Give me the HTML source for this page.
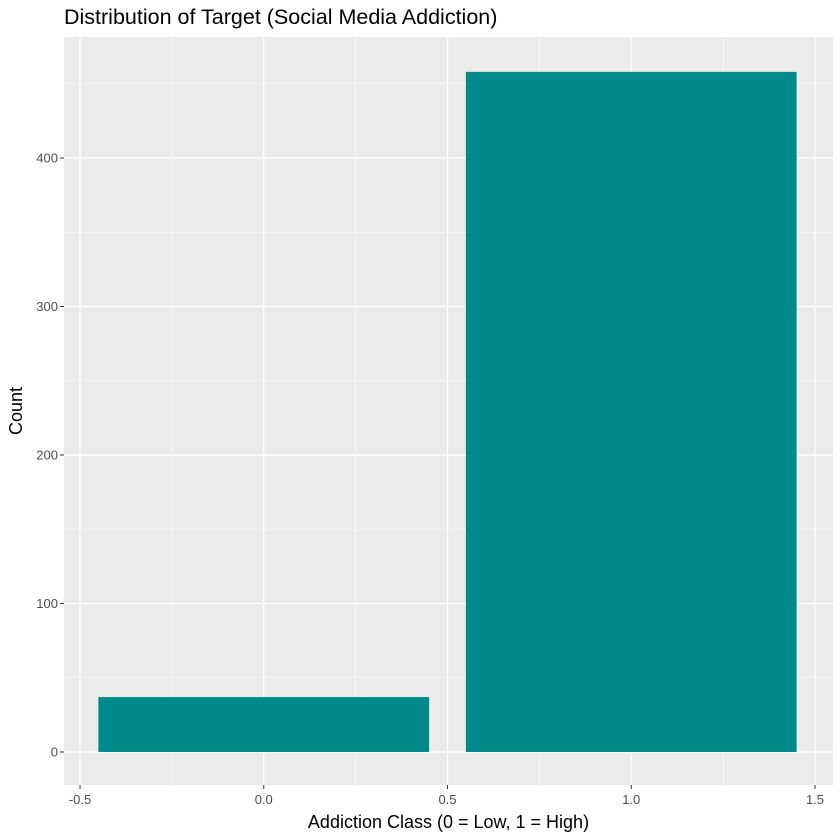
<!DOCTYPE html>
<html><head><meta charset="utf-8"><style>
body{margin:0;background:#fff;}
svg{display:block;font-family:"Liberation Sans",sans-serif;}
</style></head><body>
<svg id="chart" width="840" height="840" viewBox="0 0 840 840"></svg>
<script>
const categories=[0,1];
const counts=[37,458];
const xTicks=[-0.5,0,0.5,1,1.5];
const xTickLabels=["-0.5","0.0","0.5","1.0","1.5"];
const yTicks=[0,100,200,300,400];
const yTickLabels=["0","100","200","300","400"];
const xMinor=[-0.25,0.25,0.75,1.25];
const yMinor=[50,150,250,350,450];

const svg=document.getElementById('chart');
const NS='http://www.w3.org/2000/svg';
const P={l:64,r:833,t:37,b:785};
const xd=[-0.5436,1.549];
const X=v=>P.l+(v-xd[0])/(xd[1]-xd[0])*(P.r-P.l);
const Y=v=>752-v*1.485;
function mk(t,a,txt){const e=document.createElementNS(NS,t);for(const k in a)e.setAttribute(k,a[k]);if(txt!==undefined)e.textContent=txt;svg.appendChild(e);return e;}

let bg=mk('rect',{x:P.l,y:P.t,width:P.r-P.l,height:P.b-P.t,fill:'#ebebeb'});


xMinor.forEach(v=>{let l=mk('line',{x1:X(v),x2:X(v),y1:P.t,y2:P.b,stroke:'#fff','stroke-width':0.6});

});
yMinor.forEach(v=>{let l=mk('line',{x1:P.l,x2:P.r,y1:Y(v),y2:Y(v),stroke:'#fff','stroke-width':0.6});

});
xTicks.forEach((v,i)=>{let l=mk('line',{x1:X(v),x2:X(v),y1:P.t,y2:P.b,stroke:'#fff','stroke-width':1.2});


let t=mk('line',{x1:X(v),x2:X(v),y1:P.b,y2:P.b+4,stroke:'#333','stroke-width':1});


let tx=mk('text',{x:X(v),y:P.b+19,'text-anchor':'middle','font-size':13,fill:'#4d4d4d'},xTickLabels[i]);

});
yTicks.forEach((v,i)=>{let l=mk('line',{x1:P.l,x2:P.r,y1:Y(v),y2:Y(v),stroke:'#fff','stroke-width':1.2});


let t=mk('line',{x1:P.l-4,x2:P.l,y1:Y(v),y2:Y(v),stroke:'#333','stroke-width':1});


let tx=mk('text',{x:P.l-6,y:Y(v)+4.5,'text-anchor':'end','font-size':13,fill:'#4d4d4d'},yTickLabels[i]);

});
categories.forEach((c,i)=>{let r=mk('rect',{x:X(c-0.45),y:Y(counts[i]),width:X(c+0.45)-X(c-0.45),height:Y(0)-Y(counts[i]),fill:'#008b8b'});

});
let ti=mk('text',{x:64,y:24,'font-size':21.5,fill:'#000'},'Distribution of Target (Social Media Addiction)');


let xt=mk('text',{x:(P.l+P.r)/2,y:828,'text-anchor':'middle','font-size':18,fill:'#000'},'Addiction Class (0 = Low, 1 = High)');


let yt=mk('text',{x:0,y:0,'text-anchor':'middle','font-size':18,fill:'#000',transform:'translate(22,411) rotate(-90)'},'Count');


</script>
</body></html>
